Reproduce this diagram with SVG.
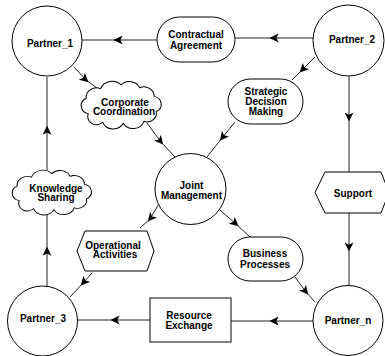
<svg xmlns="http://www.w3.org/2000/svg" width="385" height="356" viewBox="0 0 385 356">
<style>
.s{fill:#fff;stroke:#000;stroke-width:1}
.c{fill:none;stroke:#222;stroke-width:1;marker-mid:url(#ah)}
text{font-family:"Liberation Sans",Arial,sans-serif;font-weight:bold;font-size:10px;fill:#000;text-anchor:middle}
</style>
<defs>
<marker id="ah" markerUnits="userSpaceOnUse" markerWidth="9" markerHeight="9" viewBox="0 0 8 8" refX="5" refY="4" orient="auto">
<path d="M0,0 L8,4 L0,8 L2,4 Z" fill="#000"/>
</marker>
<path id="cloud" d="M8,34 A8.5,8.5 0 0 1 6,18 A10,10 0 0 1 20,8 A12,12 0 0 1 40,4 A11,11 0 0 1 58,7 A10,10 0 0 1 72,16 A8.5,8.5 0 0 1 74,32 A9,9 0 0 1 62,42 A11,11 0 0 1 42,44 A11,11 0 0 1 22,43 A8.5,8.5 0 0 1 8,34 Z"/>
</defs>
<g id="connectors">
<path class="c" d="M313,38 L273,38 L235,38"/>
<path class="c" d="M157,40 L117,40 L82,40"/>
<path class="c" d="M315,57 L302,70 L292,80"/>
<path class="c" d="M235,122 L222,138 L207,157"/>
<path class="c" d="M74,67 L86,80 L97,88"/>
<path class="c" d="M147,123 L161,142 L175,157"/>
<path class="c" d="M160,202 L150,219 L140,228"/>
<path class="c" d="M92,273 L83,283 L70,297"/>
<path class="c" d="M47,286 L47,250 L47,215"/>
<path class="c" d="M47,170 L47,129 L47,77"/>
<path class="c" d="M349,76 L349,118 L349,172"/>
<path class="c" d="M349,213 L349,248 L349,285"/>
<path class="c" d="M313,321 L273,321 L231,321"/>
<path class="c" d="M150,320 L114,320 L77,320"/>
<path class="c" d="M220,210 L236,224 L250,237"/>
<path class="c" d="M295,277 L306,292 L315,302"/>
</g>
<g id="partner1"><circle class="s" cx="47" cy="41" r="35"/><text x="50" y="46.5">Partner_1</text></g>
<g id="partner2"><circle class="s" cx="348.5" cy="40.5" r="35.5"/><text x="352" y="42.5">Partner_2</text></g>
<g id="partner3"><circle class="s" cx="42.5" cy="321" r="35"/><text x="43" y="322">Partner_3</text></g>
<g id="partnern"><circle class="s" cx="348" cy="320.5" r="35"/><text x="348" y="323.5">Partner_n</text></g>
<g id="joint"><circle class="s" cx="190.5" cy="189" r="35.5"/><text x="191.5" y="188.5">Joint</text><text x="191.5" y="198.5">Management</text></g>
<g id="contractual"><rect class="s" x="157" y="17" width="78" height="45" rx="22.5"/><text x="196" y="37.5">Contractual</text><text x="196" y="48.5">Agreement</text></g>
<g id="strategic"><rect class="s" x="228" y="79" width="75" height="45" rx="22.5"/><text x="266" y="94.5">Strategic</text><text x="266" y="104.5">Decision</text><text x="266" y="114.5">Making</text></g>
<g id="business"><rect class="s" x="228" y="237" width="75" height="44" rx="22"/><text x="265" y="257">Business</text><text x="265" y="268">Processes</text></g>
<g id="resource"><rect class="s" x="150" y="298" width="81" height="44"/><text x="189" y="318.5">Resource</text><text x="189" y="328.5">Exchange</text></g>
<g id="support"><path class="s" d="M325,172 L381,172 L389,192.5 L381,213 L325,213 L315,192.5 Z"/><text x="353" y="196.5">Support</text></g>
<g id="operational"><path class="s" d="M85,231 L147,231 L154,251 L147,271 L85,271 L77,251 Z"/><text x="113" y="248.5">Operational</text><text x="115" y="258">Activities</text></g>
<g id="corporate"><use href="#cloud" class="s" vector-effect="non-scaling-stroke" transform="translate(80,81) scale(1.03,0.96)"/><text x="125" y="105.5">Corporate</text><text x="124" y="115">Coordination</text></g>
<g id="knowledge"><use href="#cloud" class="s" vector-effect="non-scaling-stroke" transform="translate(11,170) scale(1.02,0.9)"/><text x="56" y="191.5">Knowledge</text><text x="56" y="201">Sharing</text></g>
</svg>
